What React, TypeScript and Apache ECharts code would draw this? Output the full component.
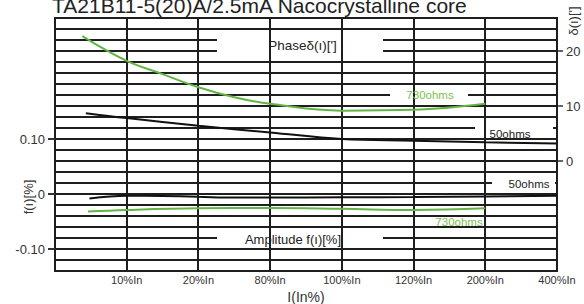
import React, { useEffect, useRef } from "react";
import * as echarts from "echarts";

// ---- data ----
const X_LABELS = ["", "10%In", "20%In", "80%In", "100%In", "120%In", "200%In", "400%In"];
const LEFT_TICKS = [-0.1, 0, 0.1];
const RIGHT_TICKS = [0, 10, 20];

const X_MIN = 0, X_MAX = 7, X_STEP = 1;
const L_MIN = -0.14, L_MAX = 0.32, L_STEP = 0.02;
const R_MIN = -20, R_MAX = 26, R_STEP = 2;

// Phase (right axis, minutes)
const phase730X = [0.38, 1, 1.5, 2, 2.5, 3, 4, 5, 6];
const phase730Y = [22.7, 18.2, 15.8, 13.4, 11.6, 10.4, 9.15, 9.3, 10.4];
const phase50X = [0.43, 1, 2, 3, 4, 5, 6, 7];
const phase50Y = [8.7, 7.8, 6.4, 5.2, 4.0, 3.7, 3.4, 3.2];

// Amplitude (left axis, %)
const amp50X = [0.48, 1, 1.5, 2, 2.5, 3, 4, 5, 6, 7];
const amp50Y = [-0.008, -0.003, -0.0035, -0.005, -0.0065, -0.0065, -0.006, -0.0055, -0.0045, -0.003];
const amp730X = [0.46, 1, 2, 3, 4, 5, 6];
const amp730Y = [-0.032, -0.029, -0.026, -0.0255, -0.027, -0.029, -0.026];

const TITLE = "TA21B11-5(20)A/2.5mA Nacocrystalline core";

// ---- style / layout ----
const GREEN = "#62b544";
const GREEN_TEXT = "#7cc24e";
const INK = "#1e1e1e";
const LABEL = "#333";
const FONT = "Liberation Sans, Arial, sans-serif";
const TICK_LEN = 6;

const zip = (xs: number[], ys: number[]) => xs.map((x, i) => [x, ys[i]]);
const steps = (min: number, max: number, step: number) => {
  const n = Math.round((max - min) / step);
  const out: number[] = [];
  for (let i = 0; i <= n; i++) out.push(+(min + i * step).toFixed(6));
  return out;
};
const H_RULES = steps(L_MIN, L_MAX, L_STEP);
const V_RULES = steps(X_MIN, X_MAX, X_STEP);
const isLeftTick = (v: number) => LEFT_TICKS.some((t) => Math.abs(t - v) < 1e-9);

// pixel boxes where the horizontal rules are interrupted by a label (x0, x1, y0, y1)
const gaps = [
  { x0: 217, x1: 383, y0: 35, y1: 56 },
  { x0: 217, x1: 383, y0: 233, y1: 243 },
  { x0: 390, x1: 468, y0: 90, y1: 100 },
  { x0: 475, x1: 553, y0: 123, y1: 133 },
  { x0: 492, x1: 555, y0: 178, y1: 188 },
];

const texts = [
  { t: "Phaseδ(ı)[']", x: 302.5, y: 45.5, s: 13.5, c: "#222", r: 0 },
  { t: "Amplitude f(ı)[%]", x: 293, y: 239, s: 13, c: "#222", r: 0 },
  { t: "730ohms", x: 430, y: 95, s: 11.5, c: GREEN_TEXT, r: 0 },
  { t: "50ohms", x: 510, y: 134, s: 11.5, c: "#222", r: 0 },
  { t: "50ohms", x: 529, y: 184, s: 11.5, c: "#222", r: 0 },
  { t: "730ohms", x: 459, y: 221.5, s: 11.5, c: GREEN_TEXT, r: 0 },
  { t: "f(ı)[%]", x: 28, y: 197, s: 13, c: LABEL, r: Math.PI / 2 },
  { t: "δ(ı)[']", x: 573, y: 21, s: 13, c: LABEL, r: Math.PI / 2 },
];

// The ruled grid: dark panel with white cells, so that rules are the gaps between cells.
function renderGrid(params: any, api: any) {
  const xs = V_RULES.map((v) => Math.round(api.coord([v, L_MIN])[0]));
  const ys = H_RULES.map((v) => Math.round(api.coord([X_MIN, v])[1]));
  const left = xs[0], right = xs[xs.length - 1];
  const bottom = ys[0], top = ys[ys.length - 1];
  const children: any[] = [];
  children.push({
    type: "rect",
    shape: { x: left - 1, y: top - 1, width: right - left + 2, height: bottom - top + 2 },
    style: { fill: INK },
  });
  for (let i = 0; i < xs.length - 1; i++) {
    for (let j = 0; j < ys.length - 1; j++) {
      const x0 = xs[i] + 1, x1 = xs[i + 1] - 1;
      const y0 = ys[j + 1] + 1, y1 = ys[j] - 1;
      children.push({
        type: "rect",
        shape: { x: x0, y: y0, width: x1 - x0, height: y1 - y0 },
        style: { fill: "#fff" },
      });
    }
  }
  // label gaps: whiten the horizontal rules but keep the vertical rules
  gaps.forEach((g) => {
    let cur = g.x0;
    const cuts = xs.filter((x) => x > g.x0 && x < g.x1);
    [...cuts, g.x1 + 1].forEach((cx) => {
      const end = cx - 1;
      if (end > cur) {
        children.push({
          type: "rect",
          shape: { x: cur, y: g.y0, width: end - cur, height: g.y1 - g.y0 },
          style: { fill: "#fff" },
        });
      }
      cur = cx + 1;
    });
  });
  // tick marks on the left axis at labelled values
  LEFT_TICKS.forEach((t) => {
    const y = Math.round(api.coord([X_MIN, t])[1]);
    children.push({
      type: "rect",
      shape: { x: left - TICK_LEN - 1, y: y - 1, width: TICK_LEN + 1, height: 2 },
      style: { fill: LABEL },
    });
  });
  return { type: "group", children };
}

export default function App() {
  const ref = useRef<HTMLDivElement>(null);
  useEffect(() => {
    if (!ref.current) return;
    const chart = echarts.init(ref.current, undefined, { renderer: "svg" });
    const lineSeries = (name: string, data: number[][], color: string, yAxisIndex: number) => ({
      type: "line",
      name,
      data,
      yAxisIndex,
      smooth: 0.4,
      showSymbol: false,
      symbol: "none",
      lineStyle: { color, width: 2 },
      z: 3,
    });
    chart.setOption({
      animation: false,
      backgroundColor: "#fff",
      title: {
        text: TITLE,
        left: 52,
        top: -5,
        padding: 0,
        textStyle: { fontSize: 21, fontWeight: "normal", color: "#222", fontFamily: FONT },
      },
      grid: {
        left: 55,
        right: 27,
        top: 18,
        bottom: 33,
        containLabel: false,
        outerBoundsMode: "none",
        show: false,
      },
      xAxis: {
        type: "value",
        min: X_MIN,
        max: X_MAX,
        interval: X_STEP,
        name: "I(In%)",
        nameLocation: "middle",
        nameGap: 16,
        nameTextStyle: { fontSize: 14, color: LABEL, fontFamily: FONT },
        axisLine: { show: false },
        axisTick: { show: false },
        axisLabel: {
          margin: 3,
          fontSize: 11,
          color: LABEL,
          fontFamily: FONT,
          formatter: (v: number) => X_LABELS[Math.round(v)] ?? "",
        },
        splitLine: { show: false },
      },
      yAxis: [
        {
          type: "value",
          position: "left",
          min: L_MIN,
          max: L_MAX,
          interval: L_STEP,
          axisLine: { show: false },
          axisTick: { show: false },
          axisLabel: {
            margin: 10,
            fontSize: 13,
            color: LABEL,
            fontFamily: FONT,
            formatter: (v: number) =>
              isLeftTick(v) ? (Math.abs(v) < 1e-9 ? "0" : v.toFixed(2)) : "",
          },
          splitLine: { show: false },
        },
        {
          type: "value",
          position: "right",
          min: R_MIN,
          max: R_MAX,
          interval: R_STEP,
          axisLine: { show: false },
          axisTick: { show: true, customValues: RIGHT_TICKS, length: TICK_LEN, lineStyle: { color: LABEL, width: 1.5 } },
          axisLabel: {
            customValues: RIGHT_TICKS,
            margin: 9,
            fontSize: 13,
            color: LABEL,
            fontFamily: FONT,
            formatter: (v: number) => String(Math.round(v)),
          },
          splitLine: { show: false },
        },
      ],
      series: [
        {
          type: "custom",
          name: "grid",
          silent: true,
          z: 0.5,
          yAxisIndex: 0,
          data: [[X_MIN, L_MIN]],
          renderItem: renderGrid,
        },
        lineSeries("730ohms phase", zip(phase730X, phase730Y), GREEN, 1),
        lineSeries("50ohms phase", zip(phase50X, phase50Y), "#111", 1),
        lineSeries("50ohms amplitude", zip(amp50X, amp50Y), "#111", 0),
        lineSeries("730ohms amplitude", zip(amp730X, amp730Y), GREEN, 0),
      ],
      graphic: {
        elements: texts.map((t) => ({
          type: "text",
          silent: true,
          z: 4,
          x: t.x,
          y: t.y,
          rotation: t.r,
          style: {
            text: t.t,
            fill: t.c,
            fontSize: t.s,
            fontFamily: FONT,
            align: "center",
            verticalAlign: "middle",
          },
        })),
      },
    });
    return () => chart.dispose();
  }, []);
  return (
    <div
      ref={ref}
      style={{ position: "fixed", left: 0, top: 0, width: 584, height: 304, background: "#fff" }}
    />
  );
}
